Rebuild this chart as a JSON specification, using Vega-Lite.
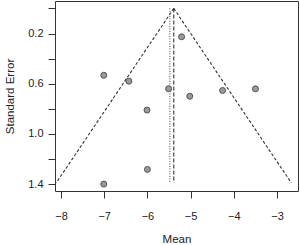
{
  "$schema": "https://vega.github.io/schema/vega-lite/v6.json",
  "autosize": "none",
  "width": 243,
  "height": 190,
  "padding": {"left": 55, "top": 1, "right": 2, "bottom": 54},
  "background": "white",
  "config": {
    "view": {"stroke": "#333", "strokeWidth": 1},
    "font": "Liberation Sans",
    "axis": {
      "grid": false, "domain": false, "tickColor": "#333", "tickSize": 7,
      "labelFont": "Liberation Sans", "labelFontSize": 11, "labelColor": "#222",
      "titleFont": "Liberation Sans", "titleFontSize": 11.5, "titleFontWeight": "normal", "titleColor": "#222"
    }
  },
  "datasets": {
    "studies": [
      {"mean": -5.21, "se": 0.226},
      {"mean": -7.01, "se": 0.533},
      {"mean": -6.43, "se": 0.58},
      {"mean": -5.51, "se": 0.64},
      {"mean": -5.02, "se": 0.70},
      {"mean": -6.01, "se": 0.81},
      {"mean": -4.26, "se": 0.654},
      {"mean": -3.50, "se": 0.641},
      {"mean": -6.00, "se": 1.283},
      {"mean": -7.01, "se": 1.40}
    ],
    "funnel": [
      {"x": -5.39, "y": 0, "x2": -8.11, "y2": 1.39},
      {"x": -5.39, "y": 0, "x2": -2.67, "y2": 1.39}
    ],
    "dashedv": [{"x": -5.39, "y": 0, "y2": 1.39}],
    "dottedv": [{"x": -5.48, "y": 0, "y2": 1.39}]
  },
  "layer": [
    {
      "data": {"name": "funnel"},
      "mark": {"type": "rule", "color": "#333", "strokeDash": [3, 2], "strokeWidth": 1.1},
      "encoding": {
        "x": {"field": "x", "type": "quantitative", "scale": {"domain": [-8.139, -2.515], "nice": false, "zero": false},
          "axis": {"values": [-8, -7, -6, -5, -4, -3], "tickCount": 12, "format": "d", "title": "Mean", "labelPadding": 12, "titlePadding": 12}},
        "y": {"field": "y", "type": "quantitative", "scale": {"domain": [-0.059, 1.455], "reverse": true, "nice": false, "zero": false},
          "axis": {"values": [0, 0.2, 0.4, 0.6, 0.8, 1.0, 1.2, 1.4], "tickCount": 16, "format": ".1f", "labelOverlap": false,
            "labelExpr": "(round(datum.value*10) % 4 == 2) ? datum.label : ''",
            "title": "Standard Error", "labelPadding": 5, "titlePadding": 12}},
        "x2": {"field": "x2"},
        "y2": {"field": "y2"}
      }
    },
    {
      "data": {"name": "dashedv"},
      "mark": {"type": "rule", "color": "#333", "strokeDash": [4, 2], "strokeWidth": 1.1},
      "encoding": {
        "x": {"field": "x", "type": "quantitative"},
        "y": {"field": "y", "type": "quantitative"},
        "y2": {"field": "y2"}
      }
    },
    {
      "data": {"name": "dottedv"},
      "mark": {"type": "rule", "color": "#444", "strokeDash": [1, 1.5], "strokeWidth": 1},
      "encoding": {
        "x": {"field": "x", "type": "quantitative"},
        "y": {"field": "y", "type": "quantitative"},
        "y2": {"field": "y2"}
      }
    },
    {
      "data": {"name": "studies"},
      "mark": {"type": "point", "filled": false, "fill": "#999", "fillOpacity": 1, "stroke": "#555", "strokeWidth": 1, "size": 36, "opacity": 1},
      "encoding": {
        "x": {"field": "mean", "type": "quantitative"},
        "y": {"field": "se", "type": "quantitative"}
      }
    }
  ]
}
